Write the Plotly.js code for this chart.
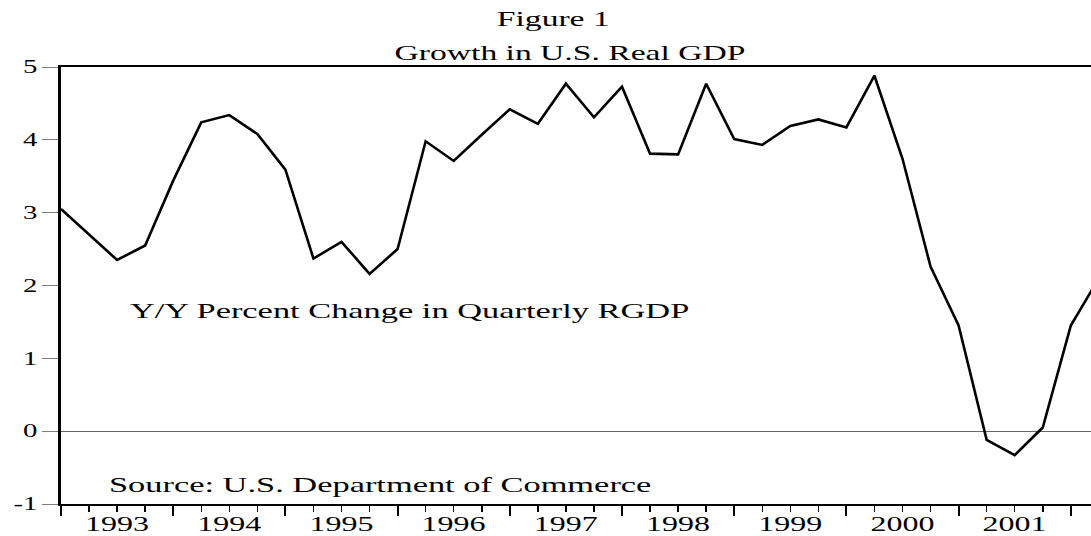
<!DOCTYPE html>
<html>
<head>
<meta charset="utf-8">
<script src="https://cdn.plot.ly/plotly-3.0.1.min.js"></script>
<style>
  html, body { margin: 0; padding: 0; background: #fff; }
  #chart { width: 1091px; height: 536px; }
</style>
</head>
<body>
<div id="chart"></div>
<script>
// Quarterly observations
var quarters = [
  "1993Q1","1993Q2","1993Q3","1993Q4",
  "1994Q1","1994Q2","1994Q3","1994Q4",
  "1995Q1","1995Q2","1995Q3","1995Q4",
  "1996Q1","1996Q2","1996Q3","1996Q4",
  "1997Q1","1997Q2","1997Q3","1997Q4",
  "1998Q1","1998Q2","1998Q3","1998Q4",
  "1999Q1","1999Q2","1999Q3","1999Q4",
  "2000Q1","2000Q2","2000Q3","2000Q4",
  "2001Q1","2001Q2","2001Q3","2001Q4",
  "2002Q1","2002Q2"
];
// Y/Y percent change in quarterly real GDP
var rgdpGrowth = [
  3.05, 2.70, 2.35, 2.55,
  3.44, 4.24, 4.34, 4.08,
  3.59, 2.37, 2.60, 2.16,
  2.50, 3.98, 3.71, 4.07,
  4.42, 4.22, 4.77, 4.31,
  4.73, 3.81, 3.80, 4.77,
  4.01, 3.93, 4.19, 4.28,
  4.17, 4.88, 3.74, 2.26,
  1.45, -0.12, -0.33, 0.05,
  1.45, 2.10
];
var yearTicks = [1993, 1994, 1995, 1996, 1997, 1998, 1999, 2000, 2001, 2002];
var yearLabels = ["1993","1994","1995","1996","1997","1998","1999","2000","2001",""];
var yTicks = [-1, 0, 1, 2, 3, 4, 5];
var yLabels = ["-1", "0", "1", "2", "3", "4", "5"];

var xVals = quarters.map(function (q) {
  return parseInt(q.slice(0, 4), 10) + (parseInt(q.slice(5), 10) - 1) / 4;
});

var FONT = "Liberation Serif, Times New Roman, serif";
var STRETCH = 1.6;

var data = [{
  type: "scatter",
  mode: "lines",
  x: xVals,
  y: rgdpGrowth,
  line: { color: "#000000", width: 2.6 },
  hoverinfo: "skip",
  showlegend: false
}];

var layout = {
  width: 1091,
  height: 536,
  margin: { l: 61, r: 0, t: 67, b: 32, pad: 0 },
  paper_bgcolor: "#ffffff",
  plot_bgcolor: "#ffffff",
  showlegend: false,
  font: { family: FONT, color: "#000000" },
  title: {
    text: "Growth in U.S. Real GDP",
    font: { family: FONT, size: 21, color: "#000000" },
    xref: "container", yref: "container",
    x: 570 / 1091, xanchor: "center",
    y: 1 - 53 / 536, yanchor: "middle"
  },
  xaxis: {
    type: "linear",
    range: [1993, 1993 + 1030 / 112.2],
    showgrid: false,
    zeroline: false,
    showline: true,
    linecolor: "#000000",
    linewidth: 2,
    mirror: true,
    ticks: "outside",
    ticklen: 10,
    tickwidth: 2,
    tickcolor: "#000000",
    tickmode: "array",
    tickvals: yearTicks,
    ticktext: yearLabels,
    ticklabelshift: 56,
    tickfont: { family: FONT, size: 20, color: "#000000" },
    minor: {
      ticks: "outside",
      ticklen: 6,
      tickwidth: 1.5,
      tickcolor: "#000000",
      tick0: 1993,
      dtick: 0.25,
      showgrid: false
    },
    fixedrange: true
  },
  yaxis: {
    range: [-1, 5],
    showgrid: false,
    zeroline: true,
    zerolinecolor: "#666666",
    zerolinewidth: 1,
    showline: true,
    linecolor: "#000000",
    linewidth: 3,
    ticks: "outside",
    ticklen: 16,
    tickwidth: 1,
    tickcolor: "#808080",
    tickmode: "array",
    tickvals: yTicks,
    ticktext: yLabels,
    ticklabelstandoff: 1,
    tickfont: { family: FONT, size: 18, color: "#000000" },
    fixedrange: true
  },
  annotations: [
    {
      text: "Figure 1",
      xref: "paper", yref: "paper",
      x: (553 - 61) / 1030, y: 1 + (67 - 19) / 437,
      xanchor: "center", yanchor: "middle",
      showarrow: false,
      font: { family: FONT, size: 21, color: "#000000" }
    },
    {
      text: "Y/Y Percent Change in Quarterly RGDP",
      xref: "paper", yref: "paper",
      x: (128 - 61) / 1030, y: (504 - 311) / 437,
      xanchor: "left", yanchor: "middle", align: "left",
      showarrow: false,
      font: { family: FONT, size: 21.5, color: "#000000" }
    },
    {
      text: "Source: U.S. Department of Commerce",
      xref: "paper", yref: "paper",
      x: (107 - 61) / 1030, y: (504 - 485) / 437,
      xanchor: "left", yanchor: "middle", align: "left",
      showarrow: false,
      font: { family: FONT, size: 21.5, color: "#000000" }
    }
  ]
};

function stretchTexts(gd) {
  var texts = gd.querySelectorAll("svg text");
  texts.forEach(function (t) {
    if (!t.textContent) return;
    var x = parseFloat(t.getAttribute("x")) || 0;
    var tr = t.getAttribute("transform") || "";
    var dy = 0;
    var parent = t.parentNode;
    if (parent && parent.classList && parent.classList.contains("xtick")) {
      // put the year labels' baseline just under the ticks, as in the reference
      var r = t.getBoundingClientRect();
      var baseline = r.bottom - 0.216 * 20;
      dy = 531 - baseline;
    }
    t.setAttribute("transform", tr + " translate(" + x + "," + dy + ") scale(" + STRETCH + ",1) translate(" + (-x) + ",0)");
  });
}

Plotly.newPlot("chart", data, layout, { displayModeBar: false, staticPlot: true }).then(stretchTexts);
</script>
</body>
</html>
